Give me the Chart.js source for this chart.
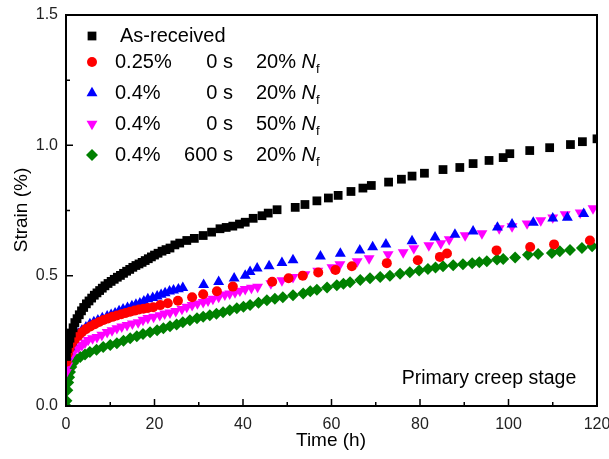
<!DOCTYPE html>
<html>
<head>
<meta charset="utf-8">
<script src="https://cdn.jsdelivr.net/npm/chart.js@4.4.1/dist/chart.umd.min.js"></script>
<style>
  body { margin: 0; background: #fff; }
  #wrap { width: 609px; height: 459px; }
</style>
</head>
<body>
<div id="wrap"><canvas id="creepChart" width="609" height="459"></canvas></div>
<script>
// Data (time in h, strain in %)
const asReceivedTime = [0.1,0.3,0.6,0.9,1.2,1.6,2.0,2.5,3.0,3.5,4.0,4.6,5.2,5.8,6.4,7.0,7.6,8.2,8.8,9.5,10.2,10.9,11.6,12.3,13.0,13.7,14.4,15.1,15.8,16.5,17.2,17.9,18.6,19.3,20.0,20.8,21.7,22.6,23.5,24.6,25.7,27.3,29.0,31.0,32.9,34.8,36.2,37.7,39.2,40.5,42.3,44.3,45.7,47.7,51.8,54.0,56.7,59.3,61.5,64.4,67.1,69.0,72.9,75.8,78.2,81.0,85.2,89.0,92.0,95.6,98.8,100.3,104.8,109.3,114.0,116.7,120.0];
const asReceivedStrain = [0.19,0.22,0.24,0.26,0.28,0.30,0.32,0.335,0.35,0.365,0.378,0.392,0.403,0.414,0.425,0.434,0.443,0.452,0.461,0.470,0.478,0.486,0.494,0.501,0.509,0.517,0.524,0.532,0.539,0.545,0.551,0.558,0.565,0.572,0.579,0.586,0.594,0.600,0.606,0.618,0.625,0.635,0.643,0.654,0.667,0.680,0.685,0.690,0.698,0.705,0.720,0.730,0.740,0.753,0.762,0.773,0.787,0.798,0.808,0.823,0.836,0.846,0.859,0.870,0.882,0.893,0.907,0.915,0.930,0.942,0.953,0.968,0.980,0.991,1.003,1.014,1.025];

const s025Time = [0.1,0.4,0.8,1.3,2.0,2.8,3.6,4.5,5.5,6.5,7.5,8.5,9.5,10.5,11.5,12.5,13.5,14.5,15.5,16.5,17.5,18.5,19.7,21.3,23.0,25.3,28.5,31.0,34.1,37.7,46.6,50.3,53.5,57.0,60.9,64.6,72.5,79.5,84.5,86.1,97.3,104.9,110.3,118.4];
const s025Strain = [0.17,0.20,0.22,0.24,0.255,0.27,0.283,0.295,0.305,0.314,0.322,0.33,0.336,0.342,0.347,0.352,0.357,0.362,0.366,0.37,0.373,0.376,0.379,0.387,0.394,0.404,0.417,0.429,0.44,0.458,0.477,0.49,0.50,0.512,0.522,0.536,0.548,0.559,0.572,0.585,0.597,0.61,0.62,0.635];

const s04Time = [0.1,0.4,0.9,1.4,2.0,2.8,3.6,4.5,5.4,6.3,7.2,8.2,9.3,10.2,11.1,12.0,12.9,13.9,14.9,15.8,16.7,17.6,18.5,19.6,20.6,21.5,22.4,23.4,24.3,25.4,26.4,31.1,34.5,38.0,40.5,41.6,43.2,45.9,48.8,51.3,57.5,62.0,66.4,69.3,72.3,78.2,83.4,87.9,92.0,97.5,100.8,105.6,110.0,113.3,117.0];
const s04Strain = [0.19,0.21,0.226,0.245,0.264,0.278,0.29,0.302,0.314,0.322,0.329,0.337,0.344,0.35,0.356,0.364,0.371,0.377,0.383,0.389,0.394,0.402,0.41,0.415,0.421,0.427,0.433,0.44,0.444,0.448,0.453,0.465,0.476,0.49,0.50,0.515,0.528,0.537,0.549,0.56,0.574,0.585,0.597,0.61,0.62,0.633,0.647,0.658,0.67,0.685,0.697,0.704,0.72,0.723,0.737];

const s04n50Time = [0.1,0.4,0.9,1.4,2.0,2.8,3.6,4.3,5.0,6.0,7.0,8.1,9.3,10.4,11.5,12.6,13.8,15.0,16.3,17.4,18.5,19.8,21.2,22.3,23.5,24.8,26.2,27.3,28.5,29.7,31.0,32.1,33.2,34.5,35.9,37.0,38.2,39.3,40.5,41.9,43.3,46.3,48.8,51.3,54.0,56.9,60.1,61.9,65.8,68.5,72.8,76.2,78.6,82.0,84.7,86.6,90.2,94.0,97.9,100.8,104.2,107.3,110.0,112.8,116.2,119.1];
const s04n50Strain = [0.13,0.155,0.184,0.2,0.214,0.224,0.233,0.243,0.253,0.259,0.264,0.273,0.283,0.29,0.298,0.304,0.31,0.316,0.321,0.33,0.337,0.342,0.348,0.354,0.358,0.364,0.372,0.38,0.387,0.393,0.398,0.404,0.411,0.418,0.427,0.431,0.436,0.442,0.448,0.453,0.457,0.47,0.482,0.494,0.505,0.518,0.532,0.543,0.555,0.566,0.582,0.589,0.605,0.616,0.624,0.639,0.654,0.662,0.681,0.689,0.70,0.712,0.723,0.735,0.742,0.758];

const s04h600Time = [0.0,0.1,0.3,0.5,0.7,0.9,1.2,1.6,2.2,3.2,4.3,5.4,6.9,8.4,10.0,11.5,13.0,14.5,16.0,17.4,19.0,20.6,22.0,23.5,25.0,26.4,28.0,29.6,31.0,32.5,34.0,35.5,37.0,38.6,40.1,41.6,43.5,45.4,47.2,49.0,51.3,53.6,55.2,56.7,59.0,61.2,62.7,64.2,66.5,68.7,71.0,73.2,75.5,77.7,79.8,81.8,83.5,85.2,87.5,89.7,91.8,93.4,95.1,97.4,98.8,101.5,104.4,106.7,109.8,111.6,113.9,116.6,118.9];
const s04h600Strain = [0.0,0.02,0.06,0.09,0.11,0.13,0.15,0.165,0.178,0.188,0.198,0.207,0.216,0.226,0.234,0.241,0.25,0.26,0.268,0.276,0.283,0.291,0.298,0.306,0.313,0.321,0.329,0.337,0.342,0.348,0.354,0.36,0.367,0.375,0.381,0.387,0.396,0.406,0.411,0.417,0.425,0.432,0.44,0.446,0.455,0.463,0.469,0.475,0.483,0.49,0.495,0.50,0.507,0.513,0.52,0.526,0.531,0.536,0.54,0.544,0.548,0.551,0.555,0.562,0.564,0.57,0.58,0.583,0.587,0.594,0.598,0.606,0.613];

const xTicks = [0, 20, 40, 60, 80, 100, 120];
const yTicks = [0.0, 0.5, 1.0, 1.5];

const FONT = "'Liberation Sans', Arial, sans-serif";

function toPoints(t, s) {
  return t.map((v, i) => ({ x: v, y: s[i] }));
}

// legend rows: marker, strain amplitude, hold time, fraction of Nf
const legendRows = [
  { style: "rect", rot: 0, r: 6.2, color: "#000000", y: 36, label: "As-received" },
  { style: "circle", rot: 0, r: 5, color: "#ff0000", y: 62, amp: "0.25%", hold: "0 s", frac: "20% " },
  { style: "triangle", rot: 0, r: 6.3, color: "#0000ff", y: 93, amp: "0.4%", hold: "0 s", frac: "20% " },
  { style: "triangle", rot: 180, r: 6.3, color: "#ff00ff", y: 124, amp: "0.4%", hold: "0 s", frac: "50% " },
  { style: "rectRot", rot: 0, r: 6, color: "#008000", y: 155, amp: "0.4%", hold: "600 s", frac: "20% " }
];

const framePlugin = {
  id: "frame",
  afterDraw(chart) {
    const c = chart.ctx;
    const a = chart.chartArea;
    const xs = chart.scales.x;
    const ys = chart.scales.y;
    c.save();
    c.strokeStyle = "#000";
    c.lineWidth = 2;
    c.strokeRect(a.left, a.top, a.right - a.left, a.bottom - a.top);

    // inward ticks, major + minor
    c.lineWidth = 1.5;
    c.beginPath();
    for (let v = 10; v < 120; v += 10) {
      const px = xs.getPixelForValue(v);
      const len = v % 20 === 0 ? 7 : 4;
      c.moveTo(px, a.bottom);
      c.lineTo(px, a.bottom - len);
    }
    for (let v = 0.25; v < 1.5; v += 0.25) {
      const py = ys.getPixelForValue(v);
      const len = Math.abs(v * 2 - Math.round(v * 2)) < 0.01 ? 7 : 4;
      c.moveTo(a.left, py);
      c.lineTo(a.left + len, py);
    }
    c.stroke();

    // axis titles
    c.fillStyle = "#000";
    c.font = "19px " + FONT;
    c.textAlign = "center";
    c.textBaseline = "middle";
    c.fillText("Time (h)", 331, 441);
    c.save();
    c.translate(22, 210);
    c.rotate(-Math.PI / 2);
    c.fillText("Strain (%)", 0, 0);
    c.restore();

    // annotation
    c.font = "19.5px " + FONT;
    c.fillText("Primary creep stage", 489, 379);

    // legend
    legendRows.forEach(row => {
      c.fillStyle = row.color;
      c.strokeStyle = row.color;
      Chart.helpers.drawPoint(c, { pointStyle: row.style, rotation: row.rot, radius: row.r, borderWidth: 0 }, 92, row.y);
      c.fillStyle = "#000";
      c.font = "20px " + FONT;
      c.textBaseline = "middle";
      if (row.label) {
        c.textAlign = "left";
        c.fillText(row.label, 120, row.y);
        return;
      }
      c.textAlign = "left";
      c.fillText(row.amp, 115, row.y);
      c.textAlign = "right";
      c.fillText(row.hold, 233, row.y);
      c.textAlign = "left";
      c.fillText(row.frac, 256, row.y);
      const w = c.measureText(row.frac).width;
      c.font = "italic 20px " + FONT;
      c.fillText("N", 256 + w, row.y);
      const wn = c.measureText("N").width;
      c.font = "13px " + FONT;
      c.fillText("f", 256 + w + wn, row.y + 7);
    });
    c.restore();
  }
};

document.addEventListener("DOMContentLoaded", () => {
  const ctx = document.getElementById("creepChart");

  new Chart(ctx, {
    type: "scatter",
    data: {
      datasets: [
        { label: "As-received", data: toPoints(asReceivedTime, asReceivedStrain), pointStyle: "rect", pointRadius: 6.2, backgroundColor: "#000000", borderWidth: 0 },
        { label: "0.25% 0 s 20% Nf", data: toPoints(s025Time, s025Strain), pointStyle: "circle", pointRadius: 5, backgroundColor: "#ff0000", borderWidth: 0 },
        { label: "0.4% 0 s 20% Nf", data: toPoints(s04Time, s04Strain), pointStyle: "triangle", pointRadius: 6.3, backgroundColor: "#0000ff", borderWidth: 0 },
        { label: "0.4% 0 s 50% Nf", data: toPoints(s04n50Time, s04n50Strain), pointStyle: "triangle", pointRotation: 180, pointRadius: 6.3, backgroundColor: "#ff00ff", borderWidth: 0 },
        { label: "0.4% 600 s 20% Nf", data: toPoints(s04h600Time, s04h600Strain), pointStyle: "rectRot", pointRadius: 6, backgroundColor: "#008000", borderWidth: 0 }
      ]
    },
    options: {
      responsive: false,
      animation: false,
      layout: { padding: { top: 15, right: 12, left: 0, bottom: 0 } },
      plugins: { legend: { display: false }, tooltip: { enabled: false } },
      scales: {
        x: {
          type: "linear",
          min: 0,
          max: 120,
          grid: { display: false, drawTicks: false },
          border: { display: false },
          afterBuildTicks: s => { s.ticks = xTicks.map(v => ({ value: v })); },
          afterFit: s => { s.height = 53; s.paddingLeft = 0; s.paddingRight = 0; },
          ticks: { maxRotation: 0, padding: 9, color: "#222", font: { family: FONT, size: 16 } }
        },
        y: {
          type: "linear",
          min: 0,
          max: 1.5,
          grid: { display: false, drawTicks: false },
          border: { display: false },
          afterBuildTicks: s => { s.ticks = yTicks.map(v => ({ value: v })); },
          afterFit: s => { s.width = 66; s.paddingTop = 0; s.paddingBottom = 0; },
          ticks: { padding: 8, color: "#222", font: { family: FONT, size: 16 }, callback: v => v.toFixed(1) }
        }
      }
    },
    plugins: [framePlugin]
  });
});
</script>
</body>
</html>
